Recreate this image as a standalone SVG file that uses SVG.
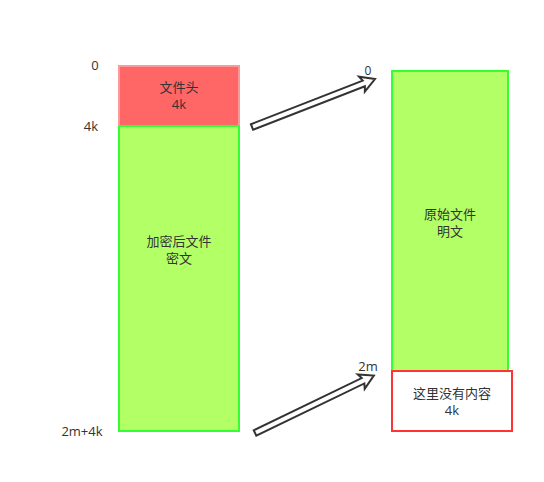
<svg xmlns="http://www.w3.org/2000/svg" width="544" height="482" viewBox="0 0 544 482">
<style>
text{font-family:"Open Sans","Noto Sans CJK SC",sans-serif;font-size:13px;fill:#333;}
.c{text-anchor:middle;}
.s{font-size:12px;}
.arrow{fill:#fff;stroke:#333;stroke-width:2;stroke-linejoin:miter;}
</style>
<defs>
<polygon id="blk" points="0,-3 120,-3 118,-8 132,0 118,8 120,3 0,3"/>
</defs>
<rect width="544" height="482" fill="#fff"/>
<g id="header">
<rect x="119" y="66" width="120" height="60" fill="#FF6666" stroke="#FF9999" stroke-width="2"/>
<text class="c" x="179" y="91.5">文件头</text>
<text class="c" x="179" y="108.5">4k</text>
</g>
<g id="cipher">
<rect x="119" y="126" width="120" height="305" fill="#B3FF66" stroke="#33FF33" stroke-width="2"/>
<text class="c" x="179" y="245.5">加密后文件</text>
<text class="c" x="179" y="262.5">密文</text>
</g>
<g id="plain">
<rect x="392" y="71" width="116" height="300" fill="#B3FF66" stroke="#33FF33" stroke-width="2"/>
<text class="c" x="450" y="218.5">原始文件</text>
<text class="c" x="450" y="235.5">明文</text>
</g>
<g id="empty">
<rect x="392" y="371" width="120" height="60" fill="#fff" stroke="#FF3333" stroke-width="2"/>
<text class="c" x="452" y="397.5">这里没有内容</text>
<text class="c" x="452" y="414.5">4k</text>
</g>
<g id="labels">
<text class="c" x="95" y="70">0</text>
<text class="c" x="91" y="131">4k</text>
<text class="c" x="82" y="436">2m+4k</text>
<text class="c s" x="368" y="75">0</text>
<text class="c" x="368" y="371">2m</text>
</g>
<g id="connectors">
<use href="#blk" class="arrow" transform="translate(252,127) rotate(-21.3)"/>
<use href="#blk" class="arrow" transform="translate(255,433) rotate(-25.8)"/>
</g>
</svg>
